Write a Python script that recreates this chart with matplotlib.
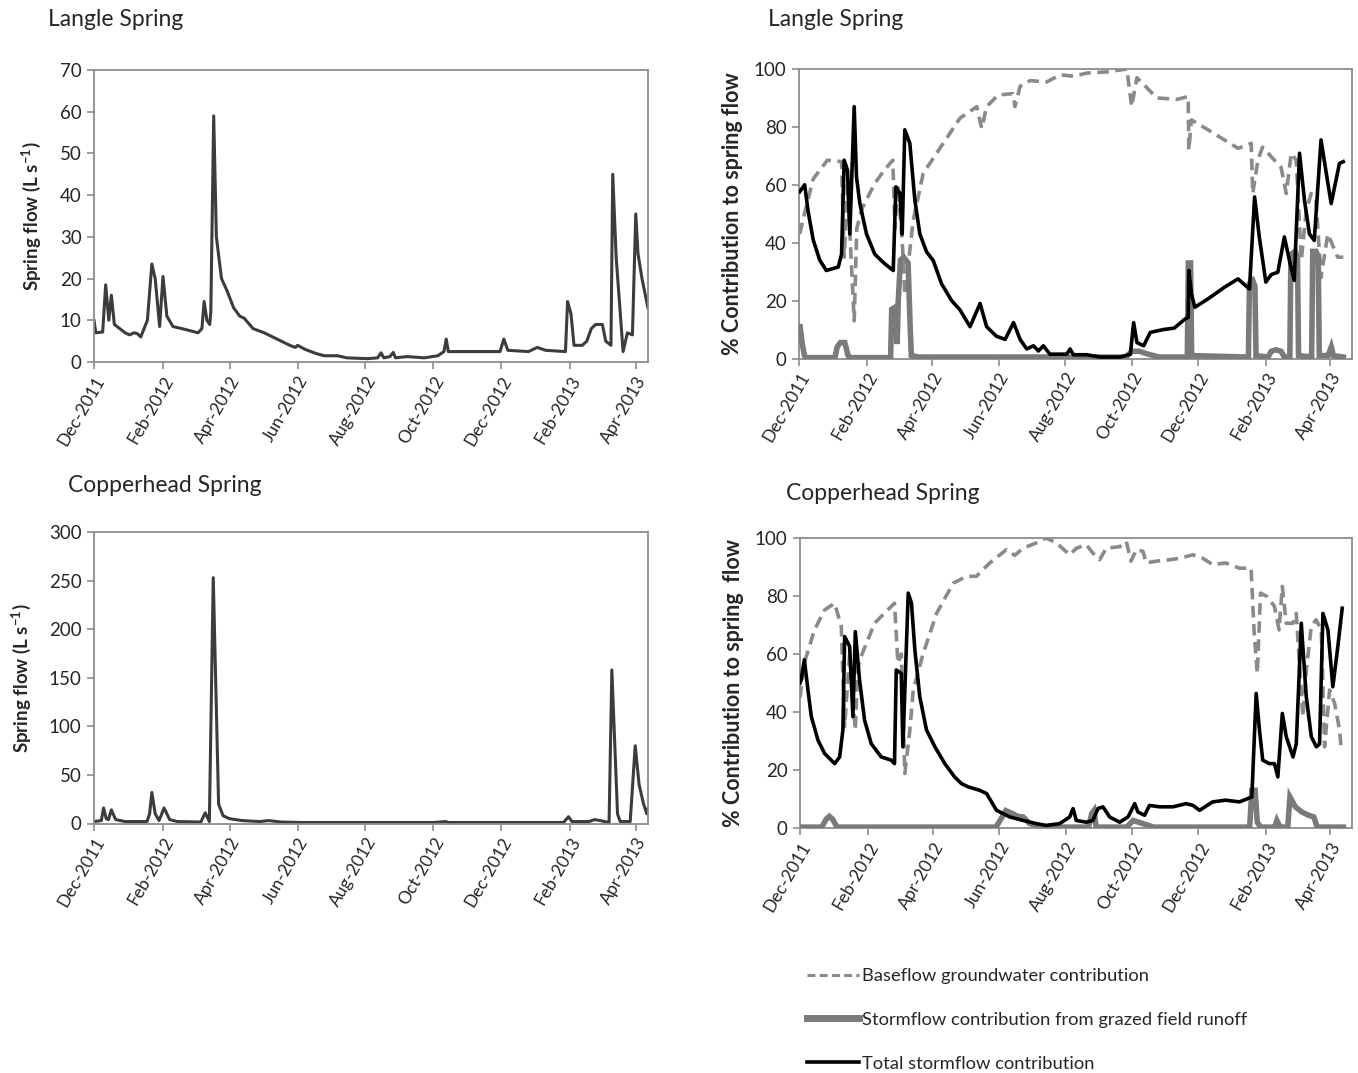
import numpy as np
import matplotlib
matplotlib.use("Agg")
import matplotlib.pyplot as plt
import matplotlib.dates as mdates
from matplotlib.lines import Line2D

plt.rcParams['font.family'] = ['Lato', 'DejaVu Sans']
plt.rcParams['mathtext.fontset'] = 'custom'
plt.rcParams['mathtext.rm'] = 'Lato'
plt.rcParams['mathtext.bf'] = 'Lato:bold'

START = '2011-12-01'

# ---------------- Langle Spring flow (L/s) ----------------
langle_flow_days = [0, 1.6, 7.8, 10.5, 13.3, 15.6, 18.3, 28, 32, 36, 39, 42, 48, 52, 55, 59, 62, 65.5, 71, 79,
                    86.5, 93.5, 97, 99, 101.5, 104, 105, 107.6, 110, 114.6, 119.7, 125.5, 131, 135, 143, 153,
                    164.5, 176, 181, 183, 190, 200, 207, 219, 227, 246, 255, 258, 260.5, 266, 269, 271, 281.5,
                    297, 309, 314.6, 316.6, 318.5, 344, 365, 368.4, 372, 390.6, 398.4, 406, 423.8, 425.7,
                    428.8, 431.5, 439, 443, 447, 451, 457, 460, 464.7, 466.3, 469.4, 475.6, 479.5, 484, 487,
                    489, 492.6, 497.9]
langle_flow = [10, 7, 7.2, 18.5, 10, 16, 9, 7, 6.5, 7, 6.8, 6, 10, 23.5, 20, 8.5, 20.5, 11, 8.5, 8,
               7.5, 7, 8, 14.5, 10, 9, 12, 59, 30, 20, 17, 13, 11, 10.5, 8, 7,
               5.5, 4, 3.5, 4, 3, 2, 1.5, 1.5, 1, 0.8, 1, 2.2, 1, 1.3, 2.3, 1, 1.3,
               1, 1.5, 2.5, 5.5, 2.5, 2.5, 2.5, 5.5, 2.8, 2.5, 3.5, 2.8, 2.5, 14.5,
               11.5, 4, 4, 5, 8, 9, 9, 5, 4, 45, 25, 2.5, 7, 6.5, 35.5,
               26, 20, 13]

# ---------------- Copperhead Spring flow (L/s) ----------------
copper_flow_days = [0, 6.6, 8.6, 11, 13, 15.6, 19.5, 28, 47.6, 50, 52, 55, 58.5, 63, 68, 75, 96, 100, 103.7,
                    107.2, 112, 116, 121.6, 133, 149, 157, 168.4, 188, 305, 316, 318.5, 422, 426.5, 429.6,
                    445, 450, 455, 463, 465.5, 470.6, 473, 482, 486.5, 490, 494, 497, 498]
copper_flow = [2, 3, 16, 5, 4, 14, 4, 2, 2, 10, 32, 10, 3, 16, 4, 2, 1.5, 11, 2,
               253, 20, 8, 5, 3, 2, 3, 1.5, 1, 1, 2, 1, 1, 7, 2,
               2, 4, 3, 1, 158, 10, 2, 2, 80, 40, 20, 10, 15]

# ---------------- Langle Spring % contributions ----------------
langle_total_days = [0.6, 5.2, 8.3, 13, 19, 25, 36, 39, 41.4, 44.5, 46.6, 50.6, 52.7, 55.8, 61.9, 69.5, 78.7,
                     86.4, 88.8, 92.5, 94.6, 97, 101.6, 106.2, 110.8, 117, 123, 130.7, 139.9, 147.6, 156.8,
                     166, 172, 181, 189, 196.7, 202.7, 208.8, 215, 219.5, 224, 230, 245.5, 248.5, 251.6,
                     263.8, 276, 294.6, 303.8, 306.8, 309.8, 316, 322, 334, 344, 353.8, 356.8, 357.4, 359.8,
                     362.9, 375, 390, 402.5, 413, 417.7, 422, 428, 433, 439, 445, 449.6, 454, 458.9, 463.4,
                     468, 472.4, 478.6, 483, 487.9, 495.5, 499]
langle_total = [57.6, 60, 51, 41, 34, 30.4, 31.6, 36, 68.5, 65, 43, 87, 62.8, 53.5, 43, 36, 32.7,
                30.4, 59.3, 57, 43, 79, 74.3, 54.7, 43, 36.8, 33.9, 25.8, 20, 16.8, 11,
                19, 11, 7.7, 6.6, 12.4, 6.6, 3.3, 4.4, 2.6, 4.4, 1.5, 1.5, 3.3, 1.3,
                1.3, 0.5, 0.5, 1.5, 12.4, 5.5, 4.4, 9, 10, 10.5, 13.6, 14.2, 30.4, 22.3,
                17.7, 20.6, 24.6, 27.5, 24, 55.8, 42, 26.4, 29, 29.8, 42, 33.9, 27, 70.9, 54.7,
                43, 40.8, 75.5, 65, 53.5, 67.4, 68]

langle_base_days = [0.6, 5, 13, 26, 39, 41.4, 44.5, 50.6, 53, 58, 69.5, 78, 86, 88, 91, 95, 97, 104.7, 113.9,
                    129, 147.6, 163, 167.5, 172, 182.5, 196, 198, 202.7, 212, 227, 239.4, 251.6, 264, 282,
                    300.6, 305, 309.8, 319, 328, 346.5, 356.8, 357.4, 359.8, 375, 390, 402.5, 414.6, 416,
                    420.7, 425, 433, 442, 446.7, 451.3, 455.9, 460.5, 465, 469.6, 474, 478.6, 484.8, 493.9,
                    499]
langle_base = [43, 50, 62, 68.5, 68, 35, 60, 13, 45, 52, 60.5, 65, 68.5, 45, 60, 38, 22, 47.7, 64,
               72.5, 83, 87, 79.5, 87, 91, 91.5, 87, 94, 96, 95.5, 98, 97.5, 98.6, 99,
               100, 87, 97, 93.5, 90, 89.5, 90.5, 72, 82.4, 79, 75.5, 72.6, 74.3, 57,
               68.5, 73, 69.7, 66, 57, 70.9, 68.5, 33.9, 51, 57, 54.7, 28, 43, 35,
               35]

langle_grazed_days = [0, 1, 3, 5, 6, 33, 35, 38, 42, 45, 47, 84, 85, 88, 89, 90, 91, 93, 96, 100,
                      102, 103, 110, 200, 300, 305, 312, 320, 330, 356, 357, 359, 360, 412, 413, 416, 418,
                      419, 430, 433, 437, 442, 445, 450, 451, 455, 457, 458, 470, 471, 474, 476, 477, 485,
                      488, 490, 499]
langle_grazed = [11, 11, 5, 1, 0.3, 0.3, 4, 5.5, 5.5, 1, 0.3, 0.3, 17, 17.7, 10, 5, 20, 34, 35, 33,
                 10, 1, 0.5, 0.5, 0.5, 2.5, 2.5, 1.5, 0.5, 0.5, 33, 33, 1, 0.5, 26, 27, 25,
                 1, 0.5, 2.5, 3, 2.5, 0.5, 0.5, 36, 37, 35, 1, 0.5, 37, 37, 35, 1, 1,
                 4, 1, 0.5]

# ---------------- Copperhead Spring % contributions ----------------
copper_total_days = [0, 1, 4, 7.3, 10.4, 16.5, 22.6, 31.8, 36.4, 39.4, 41, 45.6, 48.6, 50.8, 54.7, 59.3, 65.4,
                     74.6, 83.8, 86.8, 88.4, 93, 94.5, 99.4, 102.4, 105.5, 110, 116.2, 123.9, 133, 142, 148.3,
                     154.4, 165, 171.3, 180.5, 192.7, 205, 217.2, 226, 238.5, 247.7, 250.8, 253.8, 263, 269,
                     273.7, 278.3, 284.4, 293.6, 301.3, 307.4, 310.4, 316.5, 321, 330.3, 342.5, 354.7, 360.9,
                     367, 379, 391, 403.6, 415, 419, 422, 425, 431, 435.8, 438.9, 443, 446.6, 452.8, 455.8,
                     460.4, 465, 469.6, 474.2, 477.2, 480.3, 484.9, 489.4, 494, 498]
copper_total = [50, 51, 58, 47.6, 38.4, 30.3, 25.7, 22.2, 24.5, 33.8, 66, 62.6, 38.4, 67.7, 51, 37.2, 29.1,
                24.5, 23.4, 22.2, 54.5, 53.3, 28, 81, 77.5, 61.4, 45.3, 33.8, 28, 22.2, 17.6, 15.3,
                14.2, 13, 11.9, 6.1, 3.8, 2.6, 1.5, 0.9, 1.5, 3.8, 6.7, 2.6, 2, 2.6,
                6.7, 7.3, 3.8, 2, 3.8, 8.4, 5.5, 4.4, 7.8, 7.3, 7.3, 8.4, 7.8,
                6.1, 9, 9.6, 9, 10.7, 46.4, 33.8, 23.4, 22.2, 22.2, 17.6, 39.5, 31.5, 24.5, 29,
                70.6, 45.3, 31.5, 28, 29, 74, 68.3, 48.7, 62.6, 75.8]

copper_base_days = [0, 4, 13.3, 22.6, 31.8, 37.9, 41, 45.6, 50.8, 53, 56, 68.4, 83.8, 86.8, 89.9, 93, 96.3,
                    100.9, 104, 113, 125.4, 140.7, 153, 162, 174.3, 189.6, 197.2, 205, 217, 226, 235.5,
                    247.7, 254, 263, 269, 275.2, 281.3, 293.6, 299.7, 304, 309, 315, 318, 327, 339.4, 348.6,
                    360.9, 370, 379, 391, 403.6, 414.3, 417, 420, 423, 429, 435.8, 440, 443, 446.6, 452.8,
                    455.8, 461.9, 465, 469.6, 474, 478.8, 481.8, 486.4, 491, 495.6, 497.2]
copper_base = [45, 57, 68.3, 75.2, 77.5, 69.5, 35, 60, 33.8, 55, 59, 70.6, 76.4, 77.5, 56.8, 60, 18.8,
               33.8, 47.6, 60, 74, 84.4, 86.8, 86.8, 91.4, 96, 94, 96.5, 98.3, 100, 98.3,
               94.2, 96.5, 97.7, 94.8, 92.5, 96.5, 97, 98.8, 92, 96, 95.4, 91.4, 92, 92.5, 93,
               94.2, 93, 90.8, 91.4, 89.6, 89.6, 68.3, 53.3, 81, 79.8, 76.4, 68.3, 83.3, 70.6, 70.6,
               74, 38.4, 54.5, 69.5, 71.8, 68.3, 28, 47.6, 43, 33.8, 26.8]

copper_grazed_days = [0, 20, 24, 27, 30, 34, 180, 186, 189, 195, 200, 205, 211, 223, 265, 268, 270, 272,
                      300, 306, 315, 325, 413, 415, 418, 420, 423, 436, 438, 441, 448, 450, 455, 461, 467,
                      472, 475, 499]
copper_grazed = [0.3, 0.3, 3, 4, 3, 0.3, 0.3, 4, 6, 5, 4, 3.8, 1.5, 0.3, 0.3, 5, 6, 0.3,
                 0.3, 2.6, 1.5, 0.3, 0.3, 13, 13, 2, 0.3, 0.3, 2.6, 0.3, 0.3, 10.7, 7.3, 5.5, 4.4,
                 3.8, 0.3, 0.3]

flow_yticks_langle = [0, 10, 20, 30, 40, 50, 60, 70]
flow_yticks_copper = [0, 50, 100, 150, 200, 250, 300]
pct_yticks = [0, 20, 40, 60, 80, 100]

titles = ["Langle Spring", "Langle Spring", "Copperhead Spring", "Copperhead Spring"]
flow_ylabel = r"Spring flow (L s$^{\mathbf{-1}}$)"
pct_ylabels = ["% Contribution to spring flow", "% Contribution to spring  flow"]
legend_labels = ["Baseflow groundwater contribution",
                 "Stormflow contribution from grazed field runoff",
                 "Total stormflow contribution"]

# ---------------- drawing ----------------
W, H = 1358, 1073
fig = plt.figure(figsize=(W / 100, H / 100), dpi=100)
fig.patch.set_facecolor('white')

t0 = mdates.datestr2num(START)


def X(days):
    return t0 + np.asarray(days, dtype=float)


def box(l, t, r, b):
    return [l / W, 1 - b / H, (r - l) / W, (b - t) / H]


SPINE = '#8c8c8c'
TXT = '#262626'


def style(ax, xmax_days, yticks):
    ax.set_xlim(t0, t0 + xmax_days)
    ax.set_ylim(yticks[0], yticks[-1])
    ax.set_yticks(yticks)
    ax.xaxis.set_major_locator(mdates.MonthLocator(bymonth=[2, 4, 6, 8, 10, 12]))
    ax.xaxis.set_major_formatter(mdates.DateFormatter('%b-%Y'))
    for s in ax.spines.values():
        s.set_color(SPINE)
        s.set_linewidth(1.3)
    ax.tick_params(axis='both', colors=SPINE, labelcolor=TXT, length=5, width=1.2)
    ax.tick_params(axis='x', labelsize=12.5, pad=3)
    ax.tick_params(axis='y', labelsize=13.5, pad=4)
    for lab in ax.get_xticklabels():
        lab.set_rotation(60)
        lab.set_ha('right')
        lab.set_rotation_mode('anchor')


FLOW_C = '#3c3c3c'
BASE_C = '#8a8a8a'
GRAZ_C = '#7a7a7a'

# panel 1
ax1 = fig.add_axes(box(94, 70, 648, 362))
ax1.plot(X(langle_flow_days), langle_flow, color=FLOW_C, lw=2.2)
style(ax1, 498, flow_yticks_langle)
ax1.set_ylabel(flow_ylabel, fontsize=13.5, fontweight='bold', color=TXT, labelpad=12)

# panel 3
ax3 = fig.add_axes(box(94, 532, 648, 823.5))
ax3.plot(X(copper_flow_days), copper_flow, color=FLOW_C, lw=2.2)
style(ax3, 498, flow_yticks_copper)
ax3.set_ylabel(flow_ylabel, fontsize=13.5, fontweight='bold', color=TXT, labelpad=11)


def pct_panel(ax, bd, bv, gd, gv, td, tv, ylabel):
    ax.plot(X(bd), bv, color=BASE_C, lw=2.6, dashes=(3.2, 1.8), zorder=2)
    ax.plot(X(gd), gv, color=GRAZ_C, lw=4, zorder=3, solid_joinstyle='miter')
    ax.plot(X(td), tv, color='black', lw=2.6, zorder=4)
    style(ax, 507, pct_yticks)
    ax.set_ylabel(ylabel, fontsize=15.5, fontweight='bold', color=TXT, labelpad=8)


ax2 = fig.add_axes(box(799, 69, 1352, 358.5))
pct_panel(ax2, langle_base_days, langle_base, langle_grazed_days, langle_grazed,
          langle_total_days, langle_total, pct_ylabels[0])

ax4 = fig.add_axes(box(800, 538, 1352, 828))
pct_panel(ax4, copper_base_days, copper_base, copper_grazed_days, copper_grazed,
          copper_total_days, copper_total, pct_ylabels[1])

# titles
TS = 16.5
fig.text(48 / W, 1 - 19 / H, titles[0], fontsize=TS, color=TXT, va='center', ha='left')
fig.text(768 / W, 1 - 20 / H, titles[1], fontsize=TS, color=TXT, va='center', ha='left')
fig.text(68 / W, 1 - 486 / H, titles[2], fontsize=TS, color=TXT, va='center', ha='left')
fig.text(786 / W, 1 - 494 / H, titles[3], fontsize=TS, color=TXT, va='center', ha='left')

# legend
handles = [Line2D([], [], color=BASE_C, lw=2.2, dashes=(2.6, 1.4)),
           Line2D([], [], color=GRAZ_C, lw=5),
           Line2D([], [], color='black', lw=2.6)]
fig.legend(handles, legend_labels, loc='upper left', bbox_to_anchor=(807 / W, 1 - 968 / H),
           frameon=False, fontsize=13.2, handlelength=2.85, handletextpad=0.15,
           labelspacing=1.52, borderpad=0, borderaxespad=0, labelcolor=TXT)

fig.savefig('out.png', dpi=100, facecolor='white')
